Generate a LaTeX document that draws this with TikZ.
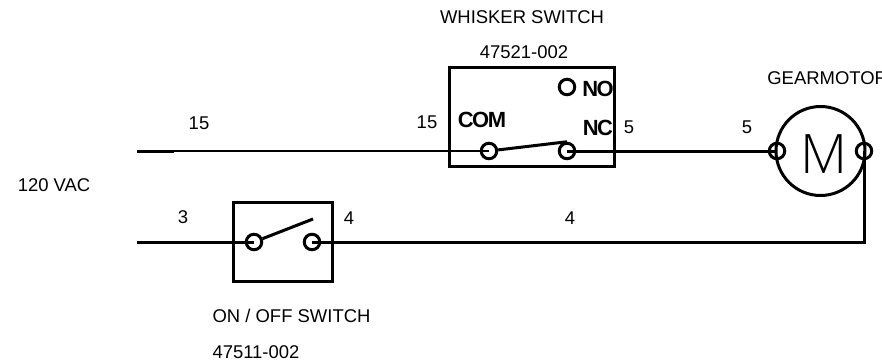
\documentclass[tikz,border=0pt]{standalone}
\usepackage{fontspec}
\setmainfont{Liberation Sans}
\newfontfamily\thinfont[UprightFont=* Light]{Open Sans}
\usetikzlibrary{positioning}
\tikzset{
  wire/.style={line width=0.06cm},
  swbox/.style={draw,line width=0.06cm,inner sep=0pt},
  term/.style={draw,circle,line width=0.06cm,minimum size=0.31cm,inner sep=0pt},
  lbl/.style={font=\fontsize{10.5}{12}\selectfont,inner sep=0pt},
  pin/.style={font=\fontsize{12.5}{14}\bfseries\addfontfeature{LetterSpace=-7}\selectfont,inner sep=0pt}
}
\begin{document}
\begin{tikzpicture}[x=0.02cm,y=-0.02cm]
  \clip (0,0) rectangle (882,362);
  %% boxes and motor
  \node[swbox,minimum width=3.32cm,minimum height=2cm] (whisker) at (532,117) {};
  \node[swbox,minimum width=2cm,minimum height=1.6cm] (onoff) at (283,242) {};
  \node[draw,circle,line width=0.06cm,minimum size=1.78cm,inner sep=0pt] (motor) at (820.5,151) {};
  \node[font=\thinfont\fontsize{31}{31}\selectfont,inner sep=0pt] (mletter) at (824,154) {M};
  %% terminals
  \node[term] (com) at (489,151) {};
  \node[term] (nc) at (567,151) {};
  \node[term] (no) at (567,87) {};
  \node[term] (ml) at (777,151) {};
  \node[term] (mr) at (864,151) {};
  \node[term] (on) at (254,242) {};
  \node[term] (off) at (312,242) {};
  %% free ends
  \coordinate (top) at (137,151);
  \coordinate (topend) at (174,151);
  \coordinate (bottom) at (137,242);
  \coordinate (ontip) at (313,219);
  %%% wires
  \draw[wire] (top) -- (topend);
  \draw[line width=0.05cm] (topend) -- (com.center);
  \draw[wire] (com) -- (nc.north);
  \draw[wire] (nc.center) -- (ml.center);
  \draw[wire] (bottom) -- (on.center);
  \draw[wire] (on) -- (ontip);
  \draw[wire] (off.center) -| (mr.center);
  %% labels
  \node[lbl] (wname) at (522,17) {WHISKER SWITCH};
  \node[lbl] (wpart) at (524,52) {47521-002};
  \node[lbl,anchor=west] (gear) at (767,78) {GEARMOTOR};
  \node[lbl] (vac) at (54,185) {120 VAC};
  \node[lbl] (oname) at (291.5,316) {ON / OFF SWITCH};
  \node[lbl] (opart) at (256,352) {47511-002};
  \node[lbl] (w15a) at (199,123) {15};
  \node[lbl] (w15b) at (427,122) {15};
  \node[lbl] (w5a) at (629,127) {5};
  \node[lbl] (w5b) at (747,127) {5};
  \node[lbl] (w3) at (183,217) {3};
  \node[lbl] (w4a) at (349,218) {4};
  \node[lbl] (w4b) at (570,218) {4};
  \node[pin] (lcom) at (482,120) {COM};
  \node[pin] (lno) at (598,89) {NO};
  \node[pin] (lnc) at (598,128) {NC};
\end{tikzpicture}
\end{document}
